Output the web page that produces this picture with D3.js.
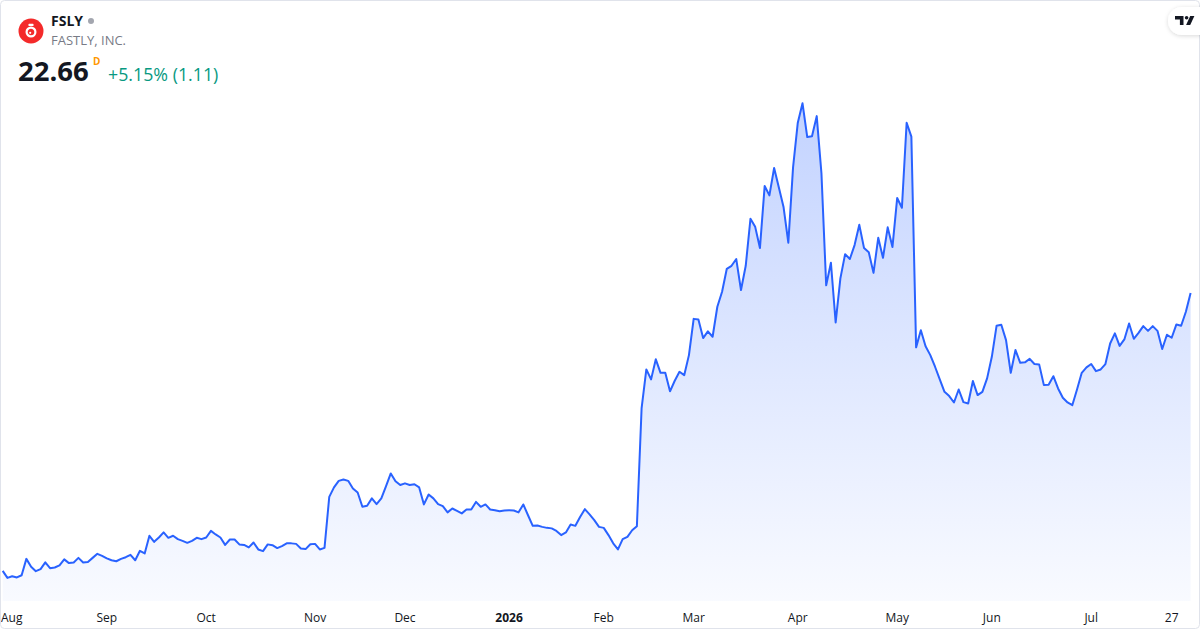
<!DOCTYPE html>
<html>
<head>
<meta charset="utf-8">
<script src="https://cdn.jsdelivr.net/npm/d3@7.9.0/dist/d3.min.js"></script>
<style>
  html, body { margin: 0; padding: 0; background: #fff; }
  svg { display: block; font-family: "Open Sans", "Noto Sans", sans-serif; }
</style>
</head>
<body>
<svg id="chart" width="1200" height="630"></svg>
<script>
// daily closes, FSLY, 31 Jul 2025 -> 31 Jul 2026 (one per trading day)
const prices = [
  6.18, 5.76, 5.86, 5.79, 5.92, 6.89, 6.42, 6.16, 6.28, 6.68,
  6.34, 6.38, 6.50, 6.86, 6.64, 6.68, 6.95, 6.68, 6.71, 6.95,
  7.19, 7.07, 6.92, 6.81, 6.75, 6.89, 6.99, 7.13, 6.81, 7.37,
  7.21, 8.26, 7.90, 8.16, 8.46, 8.14, 8.26, 8.06, 7.96, 7.84,
  7.96, 8.14, 8.06, 8.16, 8.55, 8.34, 8.16, 7.72, 8.04, 8.04,
  7.75, 7.72, 7.57, 7.86, 7.45, 7.35, 7.75, 7.70, 7.53, 7.65,
  7.81, 7.81, 7.78, 7.51, 7.47, 7.76, 7.78, 7.45, 7.54,
  10.57, 11.13, 11.52, 11.60, 11.52, 11.07, 10.83, 9.98, 10.04, 10.48,
  10.14, 10.48, 11.21, 11.96, 11.50, 11.27, 11.37, 11.27, 11.32, 11.13,
  10.12, 10.71, 10.48, 10.14, 10.02, 9.65, 9.88, 9.74, 9.59, 9.82,
  9.82, 10.27, 9.98, 10.12, 9.82, 9.78, 9.72, 9.76, 9.78, 9.76,
  9.65, 10.12, 9.48, 8.85, 8.87, 8.79, 8.73, 8.70, 8.55, 8.30,
  8.46, 8.93, 8.85, 9.37, 9.84, 9.53, 9.19, 8.79, 8.73, 8.30,
  7.81, 7.45, 8.06, 8.20, 8.59, 8.83,
  15.84,
  18.13, 17.54, 18.73, 17.93, 17.93, 16.83, 17.46, 17.99, 17.79, 18.98,
  21.13, 21.10, 19.99, 20.39, 20.07, 21.85, 22.74, 24.10, 24.28, 24.68,
  22.84, 24.28, 27.07, 26.59, 25.33, 29.01, 28.46, 30.08, 28.93, 27.75,
  25.65, 30.12, 32.77, 33.92, 31.92, 31.96, 33.16, 29.76, 23.12,
  24.46, 20.92, 23.53, 24.97, 24.68, 25.51, 26.71, 25.33, 25.08, 23.86,
  25.94, 24.75, 26.56, 25.39, 28.30, 27.72, 32.77, 31.94, 19.44, 20.46,
  19.51, 18.98, 18.29, 17.54, 16.80, 16.55, 16.17, 16.94, 16.19, 16.11,
  17.44, 16.61, 16.80, 17.60, 18.88, 20.72, 20.78, 19.87, 17.93,
  19.28, 18.52, 18.55, 18.76, 18.45, 18.43, 17.20, 17.22, 17.73, 17.00,
  16.45, 16.17, 16.01, 16.94, 17.93, 18.25, 18.45, 18.03, 18.13, 18.45,
  19.67, 20.27, 19.53, 19.91, 20.86, 19.95, 20.30, 20.70, 20.42, 20.70,
  20.42, 19.34, 20.19, 20.01, 20.80, 20.72, 21.55, 22.66
];

// market holidays skipped between first and last bar
const holidays = [
  "2025-09-01", "2025-11-27", "2025-12-25", "2026-01-01", "2026-01-19",
  "2026-02-16", "2026-04-03", "2026-05-25", "2026-06-19", "2026-07-03"
];

const tickDates = [
  "2025-08-01", "2025-09-02", "2025-10-01", "2025-11-03", "2025-12-01", "2026-01-02",
  "2026-02-02", "2026-03-02", "2026-04-01", "2026-05-01", "2026-06-01", "2026-07-01", "2026-07-27"
];
const tickLabels = ["Aug", "Sep", "Oct", "Nov", "Dec", "2026", "Feb", "Mar", "Apr", "May", "Jun", "Jul", "27"];
const boldTicks = ["2026"];

const fmt = d3.timeFormat("%Y-%m-%d");
const days = d3.timeDay.range(new Date(2025, 6, 31), new Date(2026, 7, 1))
  .filter(d => d.getDay() !== 0 && d.getDay() !== 6 && !holidays.includes(fmt(d)))
  .map(fmt);

const data = prices.map((p, i) => ({ i, date: days[i], close: p }));

const svg = d3.select("#chart");
const W = 1200, H = 630;
const plotBottom = 601;

const x = d3.scaleLinear().domain([0, prices.length - 1]).range([2.7, 1190.6]);
const y = d3.scaleLinear().domain([4.45, 40.05]).range([600, 0]);

// gradient for the area
const defs = svg.append("defs");
const grad = defs.append("linearGradient")
  .attr("id", "fillGrad")
  .attr("gradientUnits", "userSpaceOnUse")
  .attr("x1", 0).attr("x2", 0)
  .attr("y1", y(d3.max(prices))).attr("y2", plotBottom);
grad.append("stop").attr("offset", 0).attr("stop-color", "#2962ff").attr("stop-opacity", 0.28);
grad.append("stop").attr("offset", 1).attr("stop-color", "#2962ff").attr("stop-opacity", 0.03);

const shadow = defs.append("filter").attr("id", "pillShadow")
  .attr("x", "-50%").attr("y", "-50%").attr("width", "200%").attr("height", "200%");
shadow.append("feDropShadow").attr("dx", 0).attr("dy", 1).attr("stdDeviation", 2)
  .attr("flood-color", "#000").attr("flood-opacity", 0.15);

svg.append("rect")
  .attr("x", 0).attr("y", 0).attr("width", W).attr("height", H)
  .attr("fill", "#fff");

const area = d3.area()
  .x(d => x(d.i))
  .y0(plotBottom)
  .y1(d => y(d.close));

const line = d3.line()
  .x(d => x(d.i))
  .y(d => y(d.close));

svg.append("path")
  .datum(data)
  .attr("d", area)
  .attr("fill", "url(#fillGrad)");

svg.append("path")
  .datum(data)
  .attr("d", line)
  .attr("fill", "none")
  .attr("stroke", "#2962ff")
  .attr("stroke-width", 2)
  .attr("stroke-linejoin", "round");

// time axis labels
const axisG = svg.append("g");
tickDates.forEach((td, k) => {
  const idx = days.indexOf(td);
  let cx = x(idx);
  const label = tickLabels[k];
  const t = axisG.append("text")
    .attr("y", 622)
    .attr("font-size", 12)
    .attr("fill", "#131722")
    .attr("font-weight", boldTicks.includes(label) ? 700 : 400)
    .attr("text-anchor", "middle")
    .text(label);
  const w = t.node().getComputedTextLength();
  if (cx - w / 2 < 1) cx = 1 + w / 2;
  t.attr("x", cx);
});

// frame
svg.append("rect")
  .attr("x", 0.5).attr("y", 0.5).attr("width", W - 1).attr("height", H - 2)
  .attr("rx", 4)
  .attr("fill", "none")
  .attr("stroke", "#e0e3eb");

// header: logo
const logo = svg.append("g").attr("transform", "translate(31,31)");
logo.append("circle").attr("r", 12.5).attr("fill", "#f42a2a");
logo.append("circle").attr("cy", 1).attr("r", 4.4).attr("fill", "none")
  .attr("stroke", "#fff").attr("stroke-width", 2.2);
logo.append("rect").attr("x", -2.5).attr("y", -7.2).attr("width", 5).attr("height", 2.2)
  .attr("rx", 0.6).attr("fill", "#fff");
logo.append("circle").attr("cx", -0.8).attr("cy", 1.8).attr("r", 1.1).attr("fill", "#fff");

svg.append("text")
  .attr("x", 51).attr("y", 26)
  .attr("font-size", 14).attr("font-weight", 700).attr("fill", "#131722")
  .text("FSLY");
svg.append("circle").attr("cx", 91).attr("cy", 21).attr("r", 3).attr("fill", "#a3a6af");

svg.append("text")
  .attr("x", 51).attr("y", 45)
  .attr("font-size", 13).attr("fill", "#787b86")
  .text("FASTLY, INC.");

svg.append("text")
  .attr("x", 18).attr("y", 81)
  .attr("font-size", 27.5).attr("font-weight", 700).attr("fill", "#131722")
  .text("22.66");
svg.append("text")
  .attr("x", 93).attr("y", 65)
  .attr("font-size", 10).attr("font-weight", 700).attr("fill", "#ff9800")
  .text("D");
svg.append("text")
  .attr("x", 108).attr("y", 81)
  .attr("font-size", 17.8).attr("fill", "#089981")
  .text("+5.15% (1.11)");

// TradingView badge
const badge = svg.append("g");
badge.append("rect")
  .attr("x", 1168).attr("y", 7).attr("width", 46).attr("height", 28).attr("rx", 14)
  .attr("fill", "#fff").attr("filter", "url(#pillShadow)");
badge.append("path")
  .attr("d", "M1175,16 h8.5 v9 h-3.6 v-5.6 h-4.9 z")
  .attr("fill", "#131722");
badge.append("circle").attr("cx", 1186.6).attr("cy", 17.8).attr("r", 1.8).attr("fill", "#131722");
badge.append("path")
  .attr("d", "M1190.2,16 h4.2 l-4.2,9 h-4.1 z")
  .attr("fill", "#131722");
</script>
</body>
</html>
